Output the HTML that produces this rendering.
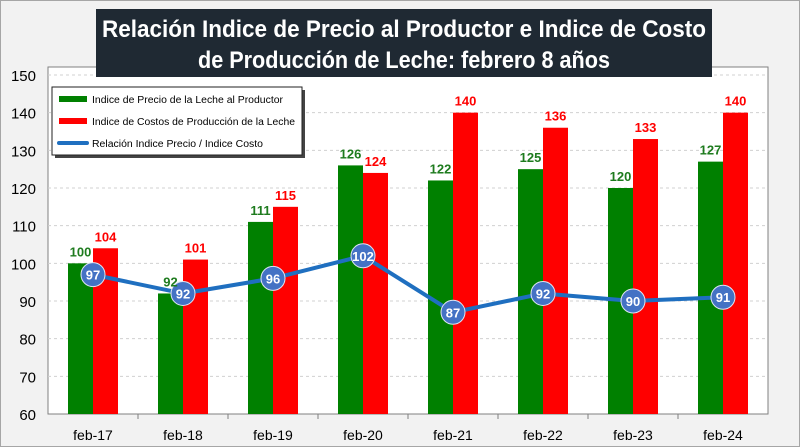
<!DOCTYPE html>
<html><head><meta charset="utf-8">
<style>
body{margin:0;background:#fff;}
svg{display:block;font-family:"Liberation Sans",sans-serif;}
</style></head>
<body>
<svg id="c" width="800" height="447" viewBox="0 0 800 447" xmlns="http://www.w3.org/2000/svg">
<rect x="0.5" y="0.5" width="799" height="446" fill="#f2f2f2" stroke="#a6a6a6"/>
<rect x="48" y="67" width="720" height="347" fill="#fff" stroke="#808080"/>
<g id="grid"></g>
<g id="bars"></g>
<g id="line"></g>
<g id="labels"></g>
<rect x="96" y="9" width="616" height="68" fill="#1f2933"/>
<text x="404" y="37" text-anchor="middle" fill="#fff" font-size="24" font-weight="bold" textLength="604" lengthAdjust="spacingAndGlyphs">Relación Indice de Precio al Productor e Indice de Costo</text>
<text x="404" y="68" text-anchor="middle" fill="#fff" font-size="24" font-weight="bold" textLength="412" lengthAdjust="spacingAndGlyphs">de Producción de Leche: febrero 8 años</text>
<g>
<rect x="55" y="90" width="250" height="68" fill="#444"/>
<rect x="52" y="87" width="250" height="68" fill="#fff" stroke="#222"/>
<rect x="59" y="96" width="28" height="6" fill="#008000"/>
<text x="92" y="103" font-size="10" fill="#000" textLength="191" lengthAdjust="spacingAndGlyphs">Indice de Precio de la Leche al Productor</text>
<rect x="59" y="118" width="28" height="6" fill="#ff0000"/>
<text x="92" y="125" font-size="10" fill="#000" textLength="203" lengthAdjust="spacingAndGlyphs">Indice de Costos de Producción de la Leche</text>
<line x1="59" y1="143" x2="87" y2="143" stroke="#1f6fc0" stroke-width="4" stroke-linecap="round"/>
<text x="92" y="147" font-size="10" fill="#000" textLength="171" lengthAdjust="spacingAndGlyphs">Relación Indice Precio / Indice Costo</text>
</g>
</svg>
<script>
const categories=["feb-17","feb-18","feb-19","feb-20","feb-21","feb-22","feb-23","feb-24"];
const precio=[100,92,111,126,122,125,120,127];
const costo=[104,101,115,124,140,136,133,140];
const relacion=[97,92,96,102,87,92,90,91];
const yTicks=[60,70,80,90,100,110,120,130,140,150];
const NS="http://www.w3.org/2000/svg";
const L=48,R=768,T=75,B=414,yMin=60,yMax=150;
const y=v=>B-(v-yMin)/(yMax-yMin)*(B-T);
const bw=(R-L)/categories.length;
const x=i=>L+bw*(i+0.5);
function mk(parent,tag,attrs,txt){const e=document.createElementNS(NS,tag);for(const k in attrs)e.setAttribute(k,attrs[k]);if(txt!==undefined)e.textContent=txt;document.getElementById(parent).appendChild(e);return e;}
yTicks.forEach(t=>{
  if(t>yMin){const g=mk("grid","line",{x1:L,x2:R,y1:y(t),y2:y(t),stroke:"#d0d0d0","stroke-dasharray":"3,3"});
  
  }
  const l=mk("grid","text",{x:36,y:y(t)+6,"text-anchor":"end","font-size":"15",fill:"#000"},t);
  
  
});
for(let i=1;i<categories.length;i++){const tk=mk("grid","line",{x1:L+bw*i,x2:L+bw*i,y1:B,y2:B+5,stroke:"#808080"});

}
categories.forEach((c,i)=>{
  const cx=x(i);
  const g=mk("bars","rect",{x:cx-25,y:y(precio[i]),width:25,height:B-y(precio[i]),fill:"#008000"});
  
  
  const r=mk("bars","rect",{x:cx,y:y(costo[i]),width:25,height:B-y(costo[i]),fill:"#ff0000"});
  
  
  const gl=mk("labels","text",{x:cx-12.5,y:y(precio[i])-7,"text-anchor":"middle","font-size":"13","font-weight":"bold",fill:"#1e7b1e"},precio[i]);
  
  
  const rl=mk("labels","text",{x:cx+12.5,y:y(costo[i])-7,"text-anchor":"middle","font-size":"13","font-weight":"bold",fill:"#ff0000"},costo[i]);
  
  
  const xl=mk("labels","text",{x:cx,y:440,"text-anchor":"middle","font-size":"14",fill:"#000"},c);
  
  
});
const pl=mk("line","polyline",{points:relacion.map((v,i)=>x(i)+","+y(v)).join(" "),fill:"none",stroke:"#1f6fc0","stroke-width":"4","stroke-linejoin":"round"});


relacion.forEach((v,i)=>{
  const m=mk("line","circle",{cx:x(i),cy:y(v),r:12,fill:"#4472c4",stroke:"#dfe6f3","stroke-width":"1"});
  
  
  const t=mk("line","text",{x:x(i),y:y(v)+5,"text-anchor":"middle","font-size":"13","font-weight":"bold",fill:"#fff"},v);
  
  
});
</script>
</body></html>
